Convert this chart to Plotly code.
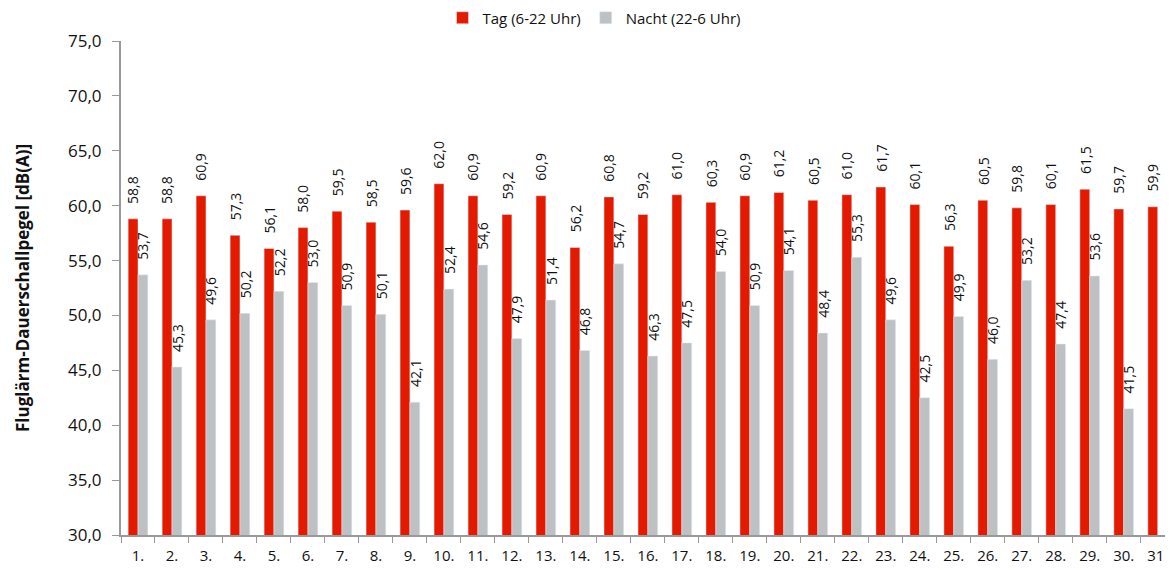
import plotly.graph_objects as go

days = [f"{i}." for i in range(1, 32)]
tag = [58.8, 58.8, 60.9, 57.3, 56.1, 58.0, 59.5, 58.5, 59.6, 62.0, 60.9, 59.2, 60.9, 56.2, 60.8,
       59.2, 61.0, 60.3, 60.9, 61.2, 60.5, 61.0, 61.7, 60.1, 56.3, 60.5, 59.8, 60.1, 61.5, 59.7, 59.9]
nacht = [53.7, 45.3, 49.6, 50.2, 52.2, 53.0, 50.9, 50.1, 42.1, 52.4, 54.6, 47.9, 51.4, 46.8, 54.7,
         46.3, 47.5, 54.0, 50.9, 54.1, 48.4, 55.3, 49.6, 42.5, 49.9, 46.0, 53.2, 47.4, 53.6, 41.5, None]

def fmt(v):
    return f"{v:.1f}".replace(".", ",")

FONT = "Open Sans"
# page body has an 8px margin; figure sized to compensate
W, H = 1165, 562
L, R, T, B = 113, 0, 33, 35
plot_w = W - L - R
x_range = [-0.5, 30.45]
cat_px = plot_w / (x_range[1] - x_range[0])
bargap = 0.42
bar_off = cat_px * (1 - bargap) / 4  # centre offset of each bar in the group

fig = go.Figure()
fig.add_trace(go.Bar(x=days, y=tag, name="Tag (6-22 Uhr)", marker_color="#E41A00"))
fig.add_trace(go.Bar(x=days, y=nacht, name="Nacht (22-6 Uhr)", marker_color="#BDC1C3"))

annotations = []
for series, shift in ((tag, -bar_off), (nacht, bar_off)):
    for i, v in enumerate(series):
        if v is None:
            continue
        annotations.append(dict(x=i, y=v, xref="x", yref="y", text=fmt(v), showarrow=False,
                                textangle=-90, xshift=shift, yshift=13, yanchor="bottom",
                                xanchor="center", font=dict(size=14, color="#111", family=FONT)))
annotations.append(dict(x=-(L - 14) / plot_w, y=0.5, xref="paper", yref="paper",
                        text="<b>Fluglärm-Dauerschallpegel [dB(A)]</b>", showarrow=False,
                        textangle=-90, xanchor="center", yanchor="middle",
                        font=dict(size=17, color="#111", family=FONT)))

fig.update_layout(
    width=W, height=H,
    margin=dict(l=L, r=R, t=T, b=B, autoexpand=False),
    paper_bgcolor="white", plot_bgcolor="white",
    barmode="group", bargap=bargap, bargroupgap=0,
    font=dict(family=FONT, color="#111"),
    legend=dict(orientation="h", x=0.5 + 4 / W, xref="container", xanchor="center",
                y=1 - 10 / H, yref="container", yanchor="middle",
                font=dict(size=15), traceorder="normal"),
    xaxis=dict(type="category", range=x_range, showline=True, linecolor="#999", linewidth=2,
               ticks="outside", tickson="boundaries", ticklen=6, tickcolor="#999",
               tickfont=dict(size=15), showgrid=False, automargin=False,
               ticklabelstandoff=6),
    yaxis=dict(range=[30, 75], dtick=5, tickformat=".1f", showline=True, linecolor="#999",
               linewidth=2, ticks="outside", ticklen=7, tickcolor="#999", showgrid=False,
               zeroline=False, tickfont=dict(size=17), automargin=False,
               ticklabelstandoff=7),
    annotations=annotations,
    separators=",.",
)
fig.write_html("out.html")
